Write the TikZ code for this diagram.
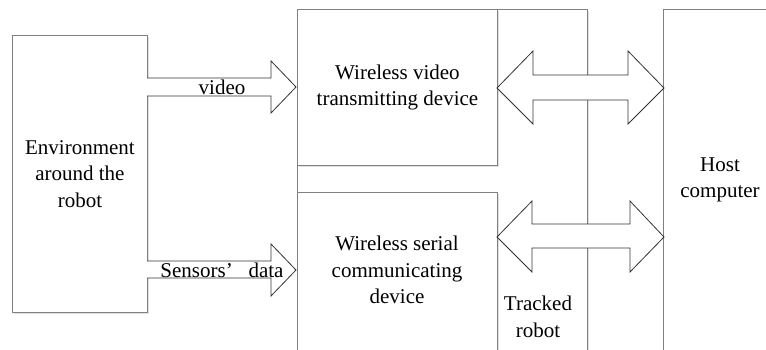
\documentclass[tikz,border=0pt]{standalone}
\usepackage{fontspec}
\setmainfont{Liberation Serif}
\usetikzlibrary{shadows}
\begin{document}
\begin{tikzpicture}[x=1pt,y=-1pt,
  box/.style={draw=black!50, line width=0.9pt, fill=white, inner sep=0pt,
    drop shadow={shadow xshift=1.5pt, shadow yshift=-1.5pt, fill=black, opacity=0.12}},
  lbl/.style={align=center, font=\fontsize{21}{26.5}\selectfont, inner sep=0pt},
  fatarrow/.style={draw=black!80, line width=0.8pt, fill=white, line join=miter}]
\useasboundingbox (0,0) rectangle (766,349);
\clip (0,0) rectangle (766,349);
% tracked robot box (behind)
\node[box, anchor=north west, minimum width=290pt, minimum height=350pt] (robot) at (297,9) {};
\node[lbl] (robotlbl) at (538,317) {Tracked\\robot};
% wireless video box
\node[box, anchor=north west, minimum width=200pt, minimum height=156pt] (wvideo) at (297,9) {};
\node[lbl] at (wvideo.center) {Wireless video\\transmitting device};
% wireless serial box
\node[box, anchor=north west, minimum width=200pt, minimum height=165pt] (wserial) at (297,192) {};
\node[lbl] at (397,270) {Wireless serial\\communicating\\device};
% host computer
\node[box, anchor=north west, minimum width=110pt, minimum height=350pt] (host) at (663,9) {};
\node[lbl] (hostlbl) at (720,180) {Host\\computer};
% environment
\node[box, anchor=north west, minimum width=135pt, minimum height=277pt] (env) at (12,35) {};
\node[lbl] at (env.center) {Environment\\around the\\robot};
% single arrows
\draw[fatarrow] (147,78) -- (271,78) -- (271,61) -- (296,87) -- (271,113) -- (271,96) -- (147,96);
\node[lbl, anchor=base] (vlbl) at (222,94) {video};
\draw[fatarrow] (147,261) -- (271,261) -- (271,244) -- (296,270) -- (271,296) -- (271,278) -- (147,278);
\node[lbl, anchor=base] (slbl) at (222,277) {Sensors’\hspace{0.75em}data};
% double arrows
\draw[fatarrow] (497,88) -- (533,51) -- (533,75) -- (628,75) -- (628,51) -- (664,88)
  -- (628,124) -- (628,100) -- (533,100) -- (533,124) -- cycle;
\draw[fatarrow] (497,237) -- (532,201) -- (532,224) -- (630,224) -- (630,201) -- (664,237)
  -- (630,272) -- (630,248) -- (532,248) -- (532,272) -- cycle;
\end{tikzpicture}
\end{document}
